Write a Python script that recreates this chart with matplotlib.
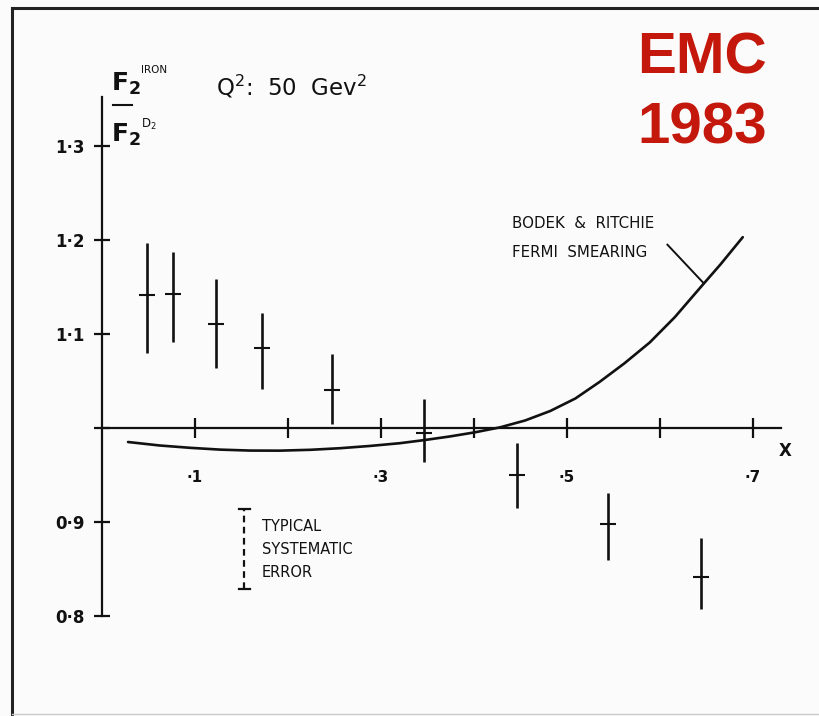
import matplotlib
matplotlib.use("Agg")
import matplotlib.pyplot as plt
from matplotlib.lines import Line2D

plt.rcParams['font.family'] = ['DejaVu Sans']
plt.rcParams['mathtext.default'] = 'regular'

# --- data (F2 iron / F2 deuterium, Q^2 = 50 GeV^2)
x_bj = [0.048, 0.076, 0.123, 0.172, 0.247, 0.346, 0.446, 0.544, 0.644]
ratio = [1.141, 1.143, 1.111, 1.085, 1.040, 0.995, 0.950, 0.898, 0.841]
err_up = [0.056, 0.044, 0.048, 0.037, 0.039, 0.036, 0.034, 0.033, 0.042]
err_down = [0.061, 0.051, 0.047, 0.044, 0.036, 0.031, 0.035, 0.038, 0.034]

# Bodek & Ritchie Fermi smearing curve
smear_x = [0.028, 0.062, 0.095, 0.127, 0.159, 0.191, 0.224, 0.256, 0.288,
           0.320, 0.347, 0.374, 0.401, 0.428, 0.455, 0.482, 0.509, 0.535,
           0.562, 0.589, 0.616, 0.643, 0.665, 0.689]
smear_y = [0.9851, 0.9814, 0.9789, 0.9770, 0.9760, 0.9759, 0.9768, 0.9785,
           0.9809, 0.9838, 0.9872, 0.9910, 0.9954, 1.0007, 1.0080, 1.0181,
           1.0314, 1.0490, 1.0690, 1.0910, 1.1180, 1.1490, 1.1740, 1.2030]

# typical systematic error bar
sys_x = 0.153
sys_lo, sys_hi = 0.829, 0.914

x_ticks = [0.1, 0.2, 0.3, 0.4, 0.5, 0.6, 0.7]
x_labels = ['·1', '', '·3', '', '·5', '', '·7']
y_ticks = [0.8, 0.9, 1.0, 1.1, 1.2, 1.3]
y_labels = ['0·8', '0·9', '', '1·1', '1·2', '1·3']

W, H = 819, 716
ink = '#111111'


def fp(x, y):
    # pixel position (from top-left) -> figure fraction
    return x / W, 1 - y / H


fig = plt.figure(figsize=(W / 100, H / 100), dpi=100)
fig.patch.set_facecolor('#fbfbfb')
ax = fig.add_axes([0, 0, 1, 1])
ax.set_facecolor('none')
ax.set_xlim(-102 / 930, (W - 102) / 930)
ax.set_ylim(1 - (H - 428) / 940, 1 + 428 / 940)

for s in ['top', 'right']:
    ax.spines[s].set_visible(False)
ax.spines['left'].set_position(('data', 0))
ax.spines['bottom'].set_position(('data', 1.0))
ax.spines['left'].set_bounds(0.8, 1.352)
ax.spines['bottom'].set_bounds(0, 0.73)
for s in ['left', 'bottom']:
    ax.spines[s].set_linewidth(1.6)
    ax.spines[s].set_color(ink)

ax.set_xticks(x_ticks)
ax.set_xticklabels(x_labels)
ax.set_yticks(y_ticks)
ax.set_yticklabels(y_labels)
ax.tick_params(axis='x', direction='inout', length=15, width=1.6, pad=23,
               labelsize=11, colors=ink)
ax.tick_params(axis='y', direction='inout', length=11.5, width=1.6, pad=7,
               labelsize=12, colors=ink)
for lab in ax.get_xticklabels() + ax.get_yticklabels():
    lab.set_fontweight('bold')

# data points
ax.errorbar(x_bj, ratio, yerr=[err_down, err_up], fmt='_', color=ink,
            ecolor=ink, elinewidth=1.9, markersize=12, markeredgewidth=1.5,
            capsize=0)

# smearing curve
ax.plot(smear_x, smear_y, color=ink, lw=1.9, solid_capstyle='round',
        solid_joinstyle='round')
ax.plot([0.608, 0.647], [1.195, 1.154], color=ink, lw=1.4)
ax.text(0.441, 1.218, 'BODEK  &  RITCHIE', fontsize=10.8, color=ink,
        va='center', ha='left')
ax.text(0.441, 1.187, 'FERMI  SMEARING', fontsize=10.8, color=ink,
        va='center', ha='left')

# systematic error
ax.plot([sys_x, sys_x], [sys_lo, sys_hi], color=ink, lw=1.6, ls=(0, (3, 2)))
ax.plot([sys_x - 0.006, sys_x + 0.006], [sys_hi, sys_hi], color=ink, lw=1.6)
ax.plot([sys_x - 0.006, sys_x + 0.006], [sys_lo, sys_lo], color=ink, lw=1.6)
for i, t in enumerate(['TYPICAL', 'SYSTEMATIC', 'ERROR']):
    ax.text(0.172, 0.895 - i * 0.0245, t, fontsize=10.5, color=ink,
            va='center', ha='left')

ax.text(0.735, 0.976, 'X', fontsize=12, fontweight='bold', color=ink,
        ha='center', va='center')

# y label: F2 iron over F2 D2
fig.text(*fp(111, 91), r'$F_2$', fontsize=18, color=ink, ha='left',
         va='baseline', fontweight='bold')
fig.text(*fp(141, 73), 'IRON', fontsize=7.5, color=ink, ha='left',
         va='baseline')
fig.add_artist(Line2D([113 / W, 132 / W], [1 - 105 / H] * 2,
                      transform=fig.transFigure, color=ink, lw=1.5))
fig.text(*fp(111, 142), r'$F_2$', fontsize=18, color=ink, ha='left',
         va='baseline', fontweight='bold')
fig.text(*fp(141, 128), r'$D_2$', fontsize=8.5, color=ink, ha='left',
         va='baseline')

fig.text(*fp(216, 95), r'Q$^2$:  50  Gev$^2$', fontsize=16.5, color=ink,
         ha='left', va='baseline')

# red title
fig.text(*fp(702, 58), 'EMC', fontsize=42, fontweight='bold',
         color='#c4180c', family='Liberation Sans', ha='center', va='center')
fig.text(*fp(702, 128), '1983', fontsize=42, fontweight='bold',
         color='#c4180c', family='Liberation Sans', ha='center', va='center')

# scanned page frame
frame = dict(transform=fig.transFigure, color='#222222', lw=2.2)
fig.add_artist(Line2D([12 / W, 12 / W], [0, 1 - 8 / H], **frame))
fig.add_artist(Line2D([12 / W, 1], [1 - 8 / H] * 2, **frame))
fig.add_artist(Line2D([12 / W, 1], [1 - 714 / H] * 2,
                      transform=fig.transFigure, color='#cccccc', lw=1))

fig.savefig('out.png', dpi=100, facecolor=fig.get_facecolor())
